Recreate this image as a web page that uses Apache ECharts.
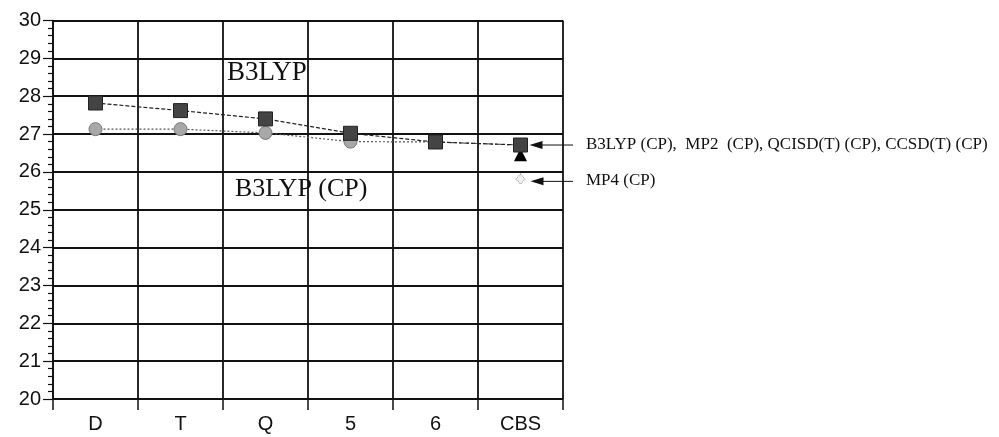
<!DOCTYPE html>
<html><head><meta charset="utf-8">
<script src="https://cdn.jsdelivr.net/npm/echarts@6/dist/echarts.min.js"></script>
<style>html,body{margin:0;padding:0;background:#fff}#c{width:999px;height:437px}</style>
</head><body><div id="c"></div>
<script>
const categories = ['D', 'T', 'Q', '5', '6', 'CBS'];
const b3lyp = [27.82, 27.62, 27.40, 27.02, 26.79, 26.71];
const b3lypCP = [27.13, 27.13, 27.03, 26.80, 26.79, 26.71];
const cbsTriangle = [null, null, null, null, null, 26.45];
const mp4CP = [null, null, null, null, null, 25.81];
const yTicks = [20, 30, 1];
const labelTop = {text: 'B3LYP', value: 28.64};
const labelBottom = {text: 'B3LYP (CP)', value: 25.52};
const arrowNotes = [
  {text: 'B3LYP (CP),  MP2  (CP), QCISD(T) (CP), CCSD(T) (CP)', value: 26.71},
  {text: 'MP4 (CP)', value: 25.75}
];

const chart = echarts.init(document.getElementById('c'), null, {renderer: 'canvas'});
const option = {
  animation: false,
  backgroundColor: '#fff',
  grid: {left: 53, top: 20.5, right: 436, bottom: 38, containLabel: false},
  xAxis: {
    type: 'category', data: categories, boundaryGap: true,
    axisLine: {lineStyle: {color: '#111', width: 1}},
    axisTick: {show: true, length: 11, lineStyle: {color: '#111', width: 1.5}},
    axisLabel: {color: '#111', fontFamily: 'Liberation Sans', fontSize: 20, margin: 15},
    splitLine: {show: true, lineStyle: {color: '#111', width: 1.8}}
  },
  yAxis: {
    type: 'value', min: yTicks[0], max: yTicks[1], interval: yTicks[2],
    axisLine: {show: true, lineStyle: {color: '#111', width: 1.5}},
    axisTick: {show: true, length: 10, lineStyle: {color: '#111', width: 1.2}},
    minorTick: {show: true, splitNumber: 5, length: 5, lineStyle: {color: '#111', width: 1.2}},
    axisLabel: {color: '#111', fontFamily: 'Liberation Sans', fontSize: 20, margin: 12},
    splitLine: {show: true, lineStyle: {color: '#111', width: 1.8}}
  },
  series: [
    {
      name: 'B3LYP (CP)', type: 'line', data: b3lypCP, symbol: 'circle', symbolSize: 13,
      itemStyle: {color: '#a8a8a8', borderColor: '#777', borderWidth: 1},
      lineStyle: {color: '#555', width: 1.2, type: [2, 2]}, z: 3
    },
    {
      name: 'B3LYP', type: 'line', data: b3lyp, symbol: 'rect', symbolSize: 14,
      itemStyle: {color: '#444', borderColor: '#222', borderWidth: 1},
      lineStyle: {color: '#222', width: 1.2, type: [4, 2]}, z: 4
    },
    {
      name: 'CBS', type: 'line', data: cbsTriangle, symbol: 'triangle', symbolSize: 13,
      itemStyle: {color: '#000'}, lineStyle: {width: 0}, z: 3
    },
    {
      name: 'MP4 (CP)', type: 'line', data: mp4CP, symbol: 'diamond', symbolSize: [9, 10],
      itemStyle: {color: '#f0f0f0', borderColor: '#999', borderWidth: 1, borderType: 'dotted'}, lineStyle: {width: 0}, z: 3
    }
  ]
};
chart.setOption(option);

function place() {
  const g = [];
  const xQ = chart.convertToPixel({xAxisIndex: 0}, 'Q');
  const xT = chart.convertToPixel({xAxisIndex: 0}, 'T');
  const step = xQ - xT;
  const leftQ = xQ - step / 2;
  const yTop = chart.convertToPixel({yAxisIndex: 0}, labelTop.value);
  const yBot = chart.convertToPixel({yAxisIndex: 0}, labelBottom.value);
  g.push({type: 'text', left: leftQ + 4, top: yTop - 13, z: 10,
    style: {text: labelTop.text, font: '27px "Liberation Serif"', fill: '#111'}});
  g.push({type: 'text', left: leftQ + 12, top: yBot - 14, z: 10,
    style: {text: labelBottom.text, font: '26px "Liberation Serif"', fill: '#111'}});
  const xCBS = chart.convertToPixel({xAxisIndex: 0}, 'CBS');
  const xEnd = xCBS + step / 2;
  arrowNotes.forEach((n, i) => {
    const y = chart.convertToPixel({yAxisIndex: 0}, n.value);
    const tip = xCBS + (i === 0 ? 9 : 10);
    const tail = xEnd + 10;
    g.push({type: 'line', shape: {x1: tip + 10, y1: y, x2: tail, y2: y}, style: {stroke: '#111', lineWidth: 1}, z: 10});
    g.push({type: 'polygon', shape: {points: [[tip, y], [tip + 13, y - 4], [tip + 13, y + 4]]}, style: {fill: '#111'}, z: 10});
    g.push({type: 'text', left: tail + 13, top: y - 9, z: 10,
      style: {text: n.text, font: '17px "Liberation Serif"', fill: '#111'}});
  });
  chart.setOption({graphic: g});
}
place();
</script>
</body></html>
